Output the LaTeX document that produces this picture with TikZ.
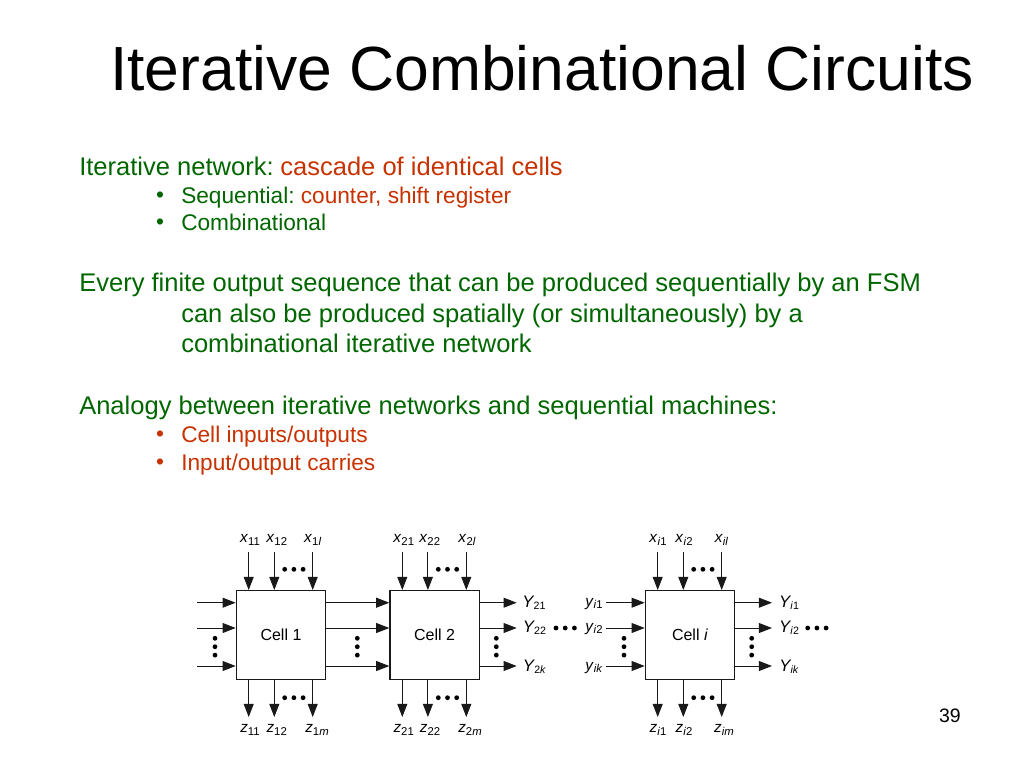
\documentclass[tikz,border=0pt]{standalone}
\usepackage{fontspec}
\setmainfont{Liberation Sans}
\usetikzlibrary{arrows.meta}
\definecolor{bodygreen}{RGB}{0,102,0}
\definecolor{bodyred}{RGB}{200,50,0}
\definecolor{wirecol}{RGB}{25,25,25}
\newcommand{\fs}[1]{\fontsize{#1}{#1}\selectfont}
% px sizes converted: 1px = 0.75pt
\newcommand{\lbl}[2]{{\fs{11.5}\textit{#1}\raisebox{-1.6pt}{\fs{8.5}#2}}}
\newcommand{\lblbig}[2]{{\fs{12.5}\textit{#1}\hspace{-0.6pt}\raisebox{-1.8pt}{\fs{8}#2}}}
\newcommand{\threedots}[5]{%
  \foreach \k in {0,1,2} {\node[dotmark] (#1-\k) at ({#2+\k*#4},{#3+\k*#5}) {};}}
\tikzset{
  x=0.75pt,y=-0.75pt,
  cellbox/.style={draw=wirecol,line width=0.9pt,fill=white,minimum width=67pt,minimum height=66.8pt,inner sep=0pt,font=\fs{12}},
  wire/.style={draw=wirecol,line width=0.75pt},
  arr/.style={wire,-{Triangle[length=9.8pt,width=7.4pt]}},
  dotmark/.style={circle,fill=black,inner sep=0pt,minimum size=3.6pt},
  sig/.style={inner sep=0pt,text=black},
  title/.style={inner sep=0pt,anchor=base west,font=\fs{46.8}},
  bodyl/.style={inner sep=0pt,anchor=base west,font=\fs{19.15},text=bodygreen},
  subl/.style={inner sep=0pt,anchor=base west,font=\fs{17},text=bodygreen},
  bullet/.style={inner sep=0pt,anchor=base,font=\fs{17}},
}
\newcommand{\cellunit}[3]{%
  \node[cellbox,anchor=north west] (#1) at (#2,590) {#3};
  \coordinate (#1t1) at ({#2+13},552); \coordinate (#1t2) at ({#2+38.6},552); \coordinate (#1t3) at ({#2+77},552);
  \coordinate (#1b1) at ({#2+13},717); \coordinate (#1b2) at ({#2+38.6},717); \coordinate (#1b3) at ({#2+77},717);
  \foreach \n in {1,2,3} {
    \draw[arr] (#1t\n) -- (#1t\n |- #1.north);
    \draw[arr] (#1t\n |- #1.south) -- (#1b\n);
  }
  \threedots{#1dt}{#2+49}{569.3}{9.2}{0}
  \threedots{#1db}{#2+49}{697.7}{9.2}{0}
}
\begin{document}
\begin{tikzpicture}
\useasboundingbox (0,0) rectangle (1024,768);
\fill[white] (0,0) rectangle (1024,768);
\node[title] (ttl) at (110,90) {Iterative Combinational Circuits};
\node[bodyl] (l1) at (79,175) {Iterative network:\hspace{5pt}\textcolor{bodyred}{cascade of identical cells}};
\node[bullet,text=bodygreen] (b1) at (160,202) {•};
\node[subl] (l2) at (181,203) {Sequential:\hspace{4.6pt}\textcolor{bodyred}{counter, shift register}};
\node[bullet,text=bodygreen] (b2) at (160,229) {•};
\node[subl] (l3) at (181,230) {Combinational};
\node[bodyl] (l4) at (79,291) {Every finite output sequence that can be produced sequentially by an FSM};
\node[bodyl] (l5) at (181,322) {can also be produced spatially (or simultaneously) by a};
\node[bodyl] (l6) at (181,352) {combinational iterative network};
\node[bodyl] (l7) at (79,414) {Analogy between iterative networks and sequential machines:};
\node[bullet,text=bodyred] (b3) at (160,441) {•};
\node[subl,text=bodyred] (l8) at (181,442) {Cell inputs/outputs};
\node[bullet,text=bodyred] (b4) at (160,469) {•};
\node[subl,text=bodyred] (l9) at (181,470) {Input/output carries};
\node[inner sep=0pt,anchor=base east,font=\fs{14.6}] (pg) at (961,722) {39};

\cellunit{ca}{235.7}{Cell 1}
\cellunit{cb}{389.3}{Cell 2}
\cellunit{cc}{644.7}{Cell \textit{i}}

\foreach \nm/\px/\py/\txt/\sb in {
  xa1/250/540/x/11, xa2/276.7/540/x/12, xa3/312.7/540/x/1\textit{l},
  xb1/403.7/540/x/21, xb2/429.7/540/x/22, xb3/467/540/x/2\textit{l},
  xc1/658/540/x/\textit{i}1, xc2/684/540/x/\textit{i}2, xc3/721.5/540/x/\textit{il},
  za1/250/730/z/11, za2/276.7/730/z/12, za3/317/730/z/1\textit{m},
  zb1/403.7/730/z/21, zb2/430/730/z/22, zb3/470/730/z/2\textit{m},
  zc1/658/730/z/\textit{i}1, zc2/684/730/z/\textit{i}2, zc3/724/730/z/\textit{im},
  yi1/594/604/y/\textit{i}1, yi2/594/629/y/\textit{i}2, yi3/594/668/y/\textit{ik}}
  {\node[sig] (\nm) at (\px,\py) {\lbl{\txt}{\sb}};}

\foreach \yy/\id in {602.7/1,628/2,666/3} {
  \coordinate (ls\id) at (197,\yy);
  \draw[arr] (ls\id) -- (ls\id -| ca.west);
  \draw[arr] (ls\id -| ca.east) -- (ls\id -| cb.west);
  \coordinate (bo\id) at (516.7,\yy);
  \draw[arr] (ls\id -| cb.east) -- (bo\id);
  \coordinate (ci\id) at (606,\yy);
  \draw[arr] (ci\id) -- (ci\id -| cc.west);
  \coordinate (co\id) at (772,\yy);
  \draw[arr] (ls\id -| cc.east) -- (co\id);
}

\foreach \nm/\px/\py/\txt/\sb in {
  yb1/534/603/Y/21, yb2/534.5/628/Y/22, yb3/534.5/667/Y/2\textit{k},
  yo1/789/603/Y/\textit{i}1, yo2/789/628/Y/\textit{i}2, yo3/789/667/Y/\textit{ik}}
  {\node[sig] (\nm) at (\px,\py) {\lblbig{\txt}{\sb}};}

\threedots{dva}{215}{638.3}{0}{8.4}
\threedots{dvb}{357.3}{638.3}{0}{8.4}
\threedots{dvc}{496.3}{638.3}{0}{8.4}
\threedots{dvd}{624}{638.3}{0}{8.4}
\threedots{dve}{751.7}{638.3}{0}{8.4}
\threedots{dha}{556}{628}{9.2}{0}
\threedots{dhb}{807.7}{628}{9.2}{0}
\end{tikzpicture}
\end{document}
